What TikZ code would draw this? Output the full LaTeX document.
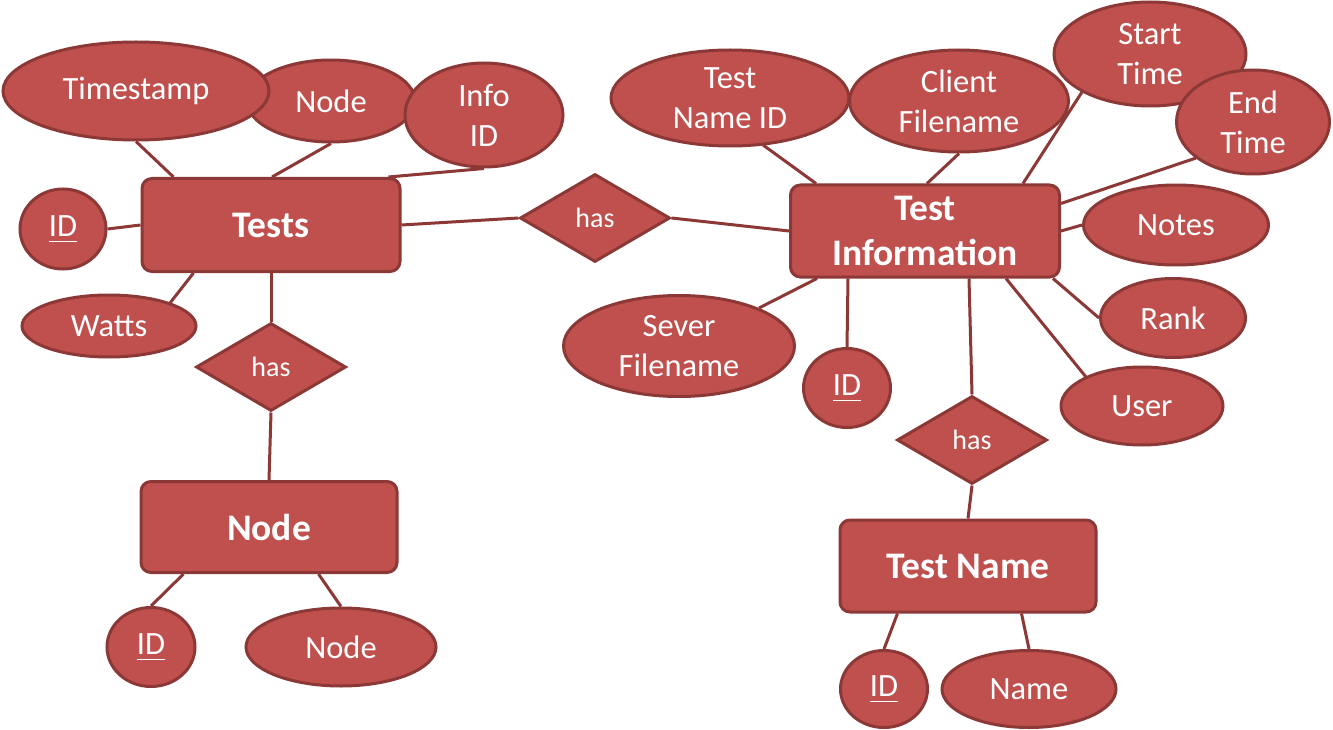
\documentclass[tikz,border=0pt]{standalone}
\usepackage{fontspec}
\setmainfont{Carlito}
\usetikzlibrary{shapes.geometric,calc,backgrounds}
\definecolor{erfill}{RGB}{192,80,77}
\definecolor{erline}{RGB}{140,56,54}
\newcommand\idul[1]{\setbox0\hbox{#1}\rlap{\raisebox{-6pt}{\rule{\wd0}{1.6pt}}}\box0}
\begin{document}
\begin{tikzpicture}[x=1pt,y=-1pt,
 attr/.style={ellipse, draw=erline, fill=erfill, line width=3pt, text=white, inner sep=0pt, align=center, font=\fontsize{32.5}{40}\selectfont},
 ent/.style={rectangle, rounded corners=10pt, draw=erline, fill=erfill, line width=3pt, text=white, inner sep=0pt, align=center, font=\fontsize{37.5}{45}\selectfont\bfseries},
 rel/.style={diamond, draw=erline, fill=erfill, line width=3pt, text=white, inner sep=0pt, font=\fontsize{28}{32}\selectfont, minimum width=150pt, minimum height=88pt},
 conn/.style={draw=erline, line width=3pt}]
\useasboundingbox (0,0) rectangle (1333,730);
% left cluster
\node[attr, minimum width=168pt, minimum height=82pt] (nodeA) at (331,101) {Node};
\node[attr, minimum width=266pt, minimum height=98pt] (ts) at (136,91) {Timestamp};
\node[attr, minimum width=158pt, minimum height=104pt] (infoid) at (484,115) {Info\\ID};
\node[ent, minimum width=258pt, minimum height=93pt] (tests) at (271,225) {Tests};
\node[attr, minimum width=86pt, minimum height=80pt] (id1) at (63,229) {\idul{ID}};
\node[attr, minimum width=174pt, minimum height=62pt] (watts) at (109,326) {Watts};
\node[rel] (has2) at (271,367) {has};
\node[ent, minimum width=256pt, minimum height=91pt] (nodeR) at (269,527) {Node};
\node[attr, minimum width=88pt, minimum height=79pt] (id2) at (151,647) {\idul{ID}};
\node[attr, minimum width=190pt, minimum height=78pt] (nodeE) at (341,647) {Node};
% right cluster
\node[rel] (has1) at (595,218) {has};
\node[attr, minimum width=238pt, minimum height=96pt] (tnid) at (730,98) {Test\\Name ID};
\node[attr, minimum width=192pt, minimum height=104pt] (st) at (1150,54) {Start\\Time};
\node[attr, minimum width=219pt, minimum height=102pt] (cf) at (959,101) {Client\\Filename};
\node[attr, minimum width=153pt, minimum height=104pt] (et) at (1253,122) {End\\Time};
\node[ent, minimum width=269pt, minimum height=92pt] (ti) at (925,231) {Test\\Information};
\node[attr, minimum width=185pt, minimum height=80pt] (notes) at (1176,225) {Notes};
\node[attr, minimum width=145pt, minimum height=79pt] (rank) at (1173,318) {Rank};
\node[attr, minimum width=162pt, minimum height=78pt] (user) at (1142,406) {User};
\node[attr, minimum width=231pt, minimum height=101pt] (sever) at (679,346) {Sever\\Filename};
\node[attr, minimum width=87pt, minimum height=79pt] (id3) at (847,388) {\idul{ID}};
\node[rel] (has3) at (972,440) {has};
\node[ent, minimum width=256pt, minimum height=92pt] (tn) at (968,566) {Test Name};
\node[attr, minimum width=87pt, minimum height=77pt] (id4) at (884,689) {\idul{ID}};
\node[attr, minimum width=174pt, minimum height=77pt] (name) at (1029,689) {Name};
\begin{scope}[on background layer]
\fill[white] (0,0) rectangle (1333,730);
\draw[conn] (ts.south) -- ([xshift=33pt]tests.north west);
\draw[conn] (nodeA.south) -- ([xshift=1pt]tests.north);
\draw[conn] (infoid.south) -- ([xshift=-13pt]tests.north east);
\draw[conn] (id1.east) -- (tests.west);
\draw[conn] ($(watts.center)+(61,-23)$) -- ([xshift=53pt]tests.south west);
\draw[conn] (tests.east) -- (has1.west);
\draw[conn] (tests.south) -- (has2.north);
\draw[conn] (has2.south) -- (nodeR.north);
\draw[conn] ([xshift=44pt]nodeR.south west) -- (id2.north);
\draw[conn] ([xshift=-80pt]nodeR.south east) -- (nodeE.north);
\draw[conn] (has1.east) -- (ti.west);
\draw[conn] ($(tnid.center)+(33,47)$) -- ([xshift=27pt]ti.north west);
\draw[conn] (cf.south) -- ([xshift=2pt]ti.north);
\draw[conn] ($(st.center)+(-68,38)$) -- ([xshift=-38pt]ti.north east);
\draw[conn] ($(et.center)+(-57,36)$) -- ([yshift=-20pt]ti.north east);
\draw[conn] (notes.west) -- (ti.east);
\draw[conn] (rank.west) -- ([xshift=-8pt]ti.south east);
\draw[conn] ($(user.center)+(-56,-29)$) -- ([xshift=-55pt]ti.south east);
\draw[conn] (has3.north) -- ([xshift=44pt]ti.south);
\draw[conn] (id3.north) -- ([xshift=59pt]ti.south west);
\draw[conn] ($(sever.center)+(80,-38)$) -- ([xshift=28pt]ti.south west);
\draw[conn] (has3.south) -- (tn.north);
\draw[conn] ([xshift=59pt]tn.south west) -- (id4.north);
\draw[conn] ([xshift=-76pt]tn.south east) -- (name.north);
\end{scope}
\end{tikzpicture}
\end{document}
